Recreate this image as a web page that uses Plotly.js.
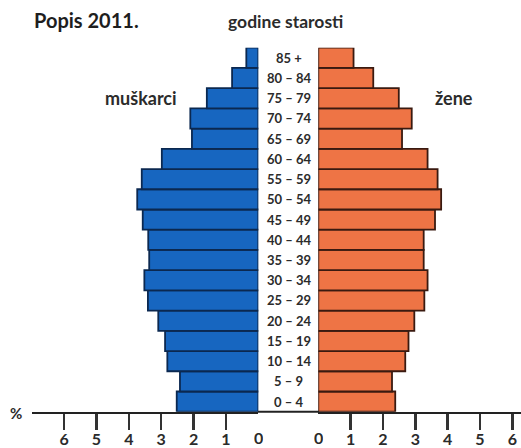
<!DOCTYPE html>
<html>
<head>
<meta charset="utf-8">
<script src="https://cdn.plot.ly/plotly-3.0.1.min.js"></script>
<style>html,body{margin:0;padding:0;background:#fff;}#chart{width:521px;height:448px;}</style>
</head>
<body>
<div id="chart"></div>
<script>
// Age groups, bottom to top
const ageGroups = ["0 – 4","5 – 9","10 – 14","15 – 19","20 – 24","25 – 29","30 – 34","35 – 39","40 – 44","45 – 49","50 – 54","55 – 59","60 – 64","65 – 69","70 – 74","75 – 79","80 – 84","85 +"];
// Share of population (%), Popis 2011
const muskarci = [2.52,2.42,2.81,2.88,3.09,3.41,3.52,3.37,3.40,3.57,3.74,3.60,2.98,2.05,2.10,1.59,0.81,0.37];
const zene     = [2.38,2.28,2.69,2.79,2.97,3.28,3.38,3.26,3.26,3.61,3.80,3.69,3.38,2.59,2.89,2.49,1.70,1.09];
const tickValues = [1,2,3,4,5,6];
const tickLabels = ["1","2","3","4","5","6"];

const FONT = "Lato, 'Open Sans', sans-serif";
const TXT = "#2b2b2b";

const traces = [
  {type:"bar", orientation:"h", y:ageGroups, x:muskarci, xaxis:"x", yaxis:"y",
   marker:{color:"#1766c0", line:{color:"#0b2850", width:1.8}}, hoverinfo:"x+y"},
  {type:"bar", orientation:"h", y:ageGroups, x:zene, xaxis:"x2", yaxis:"y",
   marker:{color:"#ee7445", line:{color:"#3a1a10", width:1.8}}, hoverinfo:"x+y"}
];

const axisCommon = {
  anchor:"y", showgrid:false, zeroline:false, showline:true, linecolor:"#222", linewidth:2,
  tickmode:"array", tickvals:tickValues, ticktext:tickLabels,
  ticks:"outside", ticklen:16, tickwidth:2.5, tickcolor:"#333",
  tickfont:{family:FONT, size:16, color:TXT, weight:"bold"}, ticklabelstandoff:-4, fixedrange:true
};

const annotations = ageGroups.map(g => ({
  x:288.5/521, xref:"paper", y:g, yref:"y", text:g, showarrow:false,
  font:{family:FONT, size:13, color:TXT, weight:"bold"}, xanchor:"center", yanchor:"middle"
}));
const zeroFont = {family:FONT,size:16,color:TXT,weight:"bold"};
annotations.push(
  {x:0, xref:"x", y:(448-436.5)/448, yref:"paper", text:"0", showarrow:false, height:16, xanchor:"center", yanchor:"middle", font:zeroFont},
  {x:0, xref:"x2", y:(448-436.5)/448, yref:"paper", text:"0", showarrow:false, height:16, xanchor:"center", yanchor:"middle", font:zeroFont},
  {x:16/521, xref:"paper", y:(448-413)/448, yref:"paper", text:"%", showarrow:false, xanchor:"center", yanchor:"middle", font:{family:FONT,size:15,color:TXT,weight:"bold"}},
  {x:32/521, xref:"paper", y:(448-20)/448, yref:"paper", text:"Popis 2011.", showarrow:false, xanchor:"left", yanchor:"middle", font:{family:FONT,size:20,color:"#1e1e1e",weight:"bold"}},
  {x:285/521, xref:"paper", y:(448-21)/448, yref:"paper", text:"godine starosti", showarrow:false, xanchor:"center", yanchor:"middle", font:{family:FONT,size:17.5,color:TXT,weight:"bold"}},
  {x:141/521, xref:"paper", y:(448-98)/448, yref:"paper", text:"muškarci", showarrow:false, xanchor:"center", yanchor:"middle", font:{family:FONT,size:18,color:TXT,weight:"bold"}},
  {x:454/521, xref:"paper", y:(448-98)/448, yref:"paper", text:"žene", showarrow:false, xanchor:"center", yanchor:"middle", font:{family:FONT,size:18,color:TXT,weight:"bold"}}
);

const layout = {
  width:521, height:448, margin:{l:0,r:0,t:0,b:0}, paper_bgcolor:"#fff", plot_bgcolor:"rgba(0,0,0,0)",
  showlegend:false, bargap:0,
  xaxis:Object.assign({}, axisCommon, {domain:[31.7/521, 258.3/521], range:[7,0]}),
  xaxis2:Object.assign({}, axisCommon, {domain:[318.3/521, 1], range:[0,6.27]}),
  yaxis:{domain:[(448-411.7)/448, (448-47.7)/448], type:"category", categoryorder:"array", categoryarray:ageGroups,
         range:[-0.5,17.5], showticklabels:false, showgrid:false, zeroline:false, showline:false, ticks:"", fixedrange:true},
  shapes:[{type:"line", xref:"paper", yref:"paper", x0:258/521, x1:319/521, y0:(448-411.7)/448, y1:(448-411.7)/448, line:{color:"#222", width:2}}],
  annotations:annotations
};

Plotly.newPlot("chart", traces, layout, {displayModeBar:false, staticPlot:true});
</script>
</body>
</html>
